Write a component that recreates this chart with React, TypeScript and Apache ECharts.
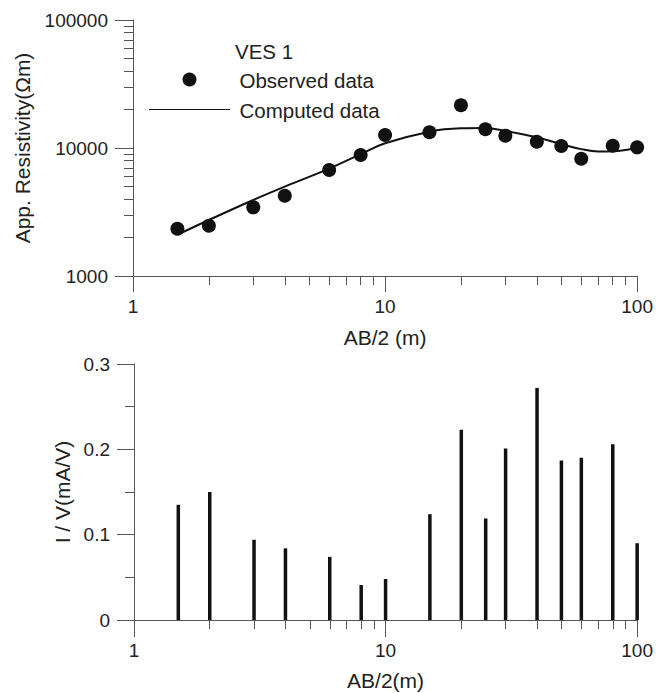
import React, { useEffect, useRef } from "react";
import * as echarts from "echarts";

// ---- Data ----
const abHalf = [1.5, 2, 3, 4, 6, 8, 10, 15, 20, 25, 30, 40, 50, 60, 80, 100];
const observedRho = [2340, 2470, 3440, 4240, 6730, 8810, 12640, 13270, 21570, 14000, 12480, 11200, 10370, 8250, 10420, 10120];
const computedAb = [1.5, 2, 3, 4, 6, 8, 10, 15, 20, 25, 30, 40, 50, 60, 70, 80, 100];
const computedRho = [2100, 2740, 3925, 4990, 6900, 8950, 10880, 13420, 14250, 14330, 13580, 12120, 10740, 9800, 9380, 9420, 10050];
const ivValues = [0.135, 0.15, 0.094, 0.084, 0.074, 0.041, 0.048, 0.124, 0.223, 0.119, 0.201, 0.272, 0.187, 0.19, 0.206, 0.09];
const legendTitle = "VES 1";
const observedName = "Observed data";
const computedName = "Computed data";

const FONT = "'Liberation Sans', Arial, Helvetica, sans-serif";
const AX = "#555";
const INK = "#111";
const TXT = "#222";

const fmtInt = (v: number) => String(Math.round(v));
const logMinor = () => ({ show: true, splitNumber: 9, length: 9, lineStyle: { color: AX, width: 1 } });
const axisLineStyle = () => ({ show: true, onZero: false, lineStyle: { color: AX, width: 1 } });
const nameStyle = () => ({ fontSize: 21, color: TXT, fontFamily: FONT });

export default function App() {
  const ref = useRef<HTMLDivElement>(null);
  useEffect(() => {
    if (!ref.current) return;
    const chart = echarts.init(ref.current, null, { renderer: "svg" });
    const option: any = {
      animation: false,
      grid: [
        { left: 133, top: 20, width: 506, height: 256 },
        { left: 134, top: 364, width: 504, height: 256 },
      ],
      xAxis: [
        {
          gridIndex: 0,
          type: "log",
          logBase: 10,
          min: 1,
          max: 100,
          name: "AB/2 (m)",
          nameLocation: "middle",
          nameGap: 51,
          nameTextStyle: nameStyle(),
          axisLine: axisLineStyle(),
          splitLine: { show: false },
          axisTick: { show: true, length: 16, lineStyle: { color: AX } },
          minorTick: logMinor(),
          axisLabel: { margin: 21, fontSize: 19, color: TXT, fontFamily: FONT, formatter: fmtInt },
        },
        {
          gridIndex: 1,
          type: "log",
          logBase: 10,
          min: 1,
          max: 100,
          name: "AB/2(m)",
          nameLocation: "middle",
          nameGap: 50,
          nameTextStyle: nameStyle(),
          axisLine: axisLineStyle(),
          splitLine: { show: false },
          axisTick: { show: true, length: 17, lineStyle: { color: AX } },
          minorTick: logMinor(),
          axisLabel: { margin: 21, fontSize: 19, color: TXT, fontFamily: FONT, formatter: fmtInt },
        },
      ],
      yAxis: [
        {
          gridIndex: 0,
          type: "log",
          logBase: 10,
          min: 1000,
          max: 100000,
          name: "App. Resistivity(Ωm)",
          nameLocation: "middle",
          nameGap: 100,
          nameTextStyle: nameStyle(),
          axisLine: axisLineStyle(),
          splitLine: { show: false },
          axisTick: { show: true, length: 18, lineStyle: { color: AX } },
          minorTick: logMinor(),
          axisLabel: { margin: 25, fontSize: 19, color: TXT, fontFamily: FONT, formatter: fmtInt },
        },
        {
          gridIndex: 1,
          type: "value",
          min: 0,
          max: 0.3,
          interval: 0.1,
          name: "I / V(mA/V)",
          nameLocation: "middle",
          nameGap: 57,
          nameTextStyle: nameStyle(),
          axisLine: axisLineStyle(),
          splitLine: { show: false },
          axisTick: { show: true, length: 17, lineStyle: { color: AX } },
          minorTick: { show: true, splitNumber: 2, length: 9, lineStyle: { color: AX } },
          axisLabel: { margin: 24, fontSize: 19, color: TXT, fontFamily: FONT },
        },
      ],
      graphic: [
        {
          type: "text",
          x: 235,
          y: 51,
          style: { text: legendTitle, fontSize: 20.5, fill: TXT, fontFamily: FONT, verticalAlign: "middle" },
        },
        {
          type: "circle",
          shape: { cx: 189.5, cy: 79.5, r: 7 },
          style: { fill: INK },
        },
        {
          type: "text",
          x: 239.5,
          y: 80,
          style: { text: observedName, fontSize: 20.5, fill: TXT, fontFamily: FONT, verticalAlign: "middle" },
        },
        {
          type: "line",
          shape: { x1: 149, y1: 109.5, x2: 230, y2: 109.5 },
          style: { stroke: INK, lineWidth: 1.2 },
        },
        {
          type: "text",
          x: 239.5,
          y: 110,
          style: { text: computedName, fontSize: 20.5, fill: TXT, fontFamily: FONT, verticalAlign: "middle" },
        },
      ],
      series: [
        {
          name: computedName,
          type: "line",
          xAxisIndex: 0,
          yAxisIndex: 0,
          smooth: 0.4,
          symbol: "none",
          lineStyle: { color: INK, width: 2 },
          itemStyle: { color: INK },
          data: computedAb.map((x, i) => [x, computedRho[i]]),
          z: 2,
        },
        {
          name: observedName,
          type: "scatter",
          xAxisIndex: 0,
          yAxisIndex: 0,
          symbol: "circle",
          symbolSize: 14,
          itemStyle: { color: INK, opacity: 1 },
          data: abHalf.map((x, i) => [x, observedRho[i]]),
          z: 3,
        },
        {
          name: "I/V",
          type: "custom",
          xAxisIndex: 1,
          yAxisIndex: 1,
          silent: true,
          data: abHalf.map((x, i) => [x, ivValues[i]]),
          encode: { x: 0, y: 1 },
          renderItem: (params: any, api: any) => {
            const p0 = api.coord([api.value(0), 0]);
            const p1 = api.coord([api.value(0), api.value(1)]);
            return {
              type: "rect",
              shape: { x: p0[0] - 1.75, y: p1[1], width: 3.5, height: p0[1] - p1[1] },
              style: { fill: INK },
            };
          },
          z: 3,
        },
      ],
    };
    chart.setOption(option);
    return () => chart.dispose();
  }, []);
  return (
    <div
      ref={ref}
      style={{ position: "absolute", left: 0, top: 0, width: 656, height: 693, background: "#fff" }}
    />
  );
}
